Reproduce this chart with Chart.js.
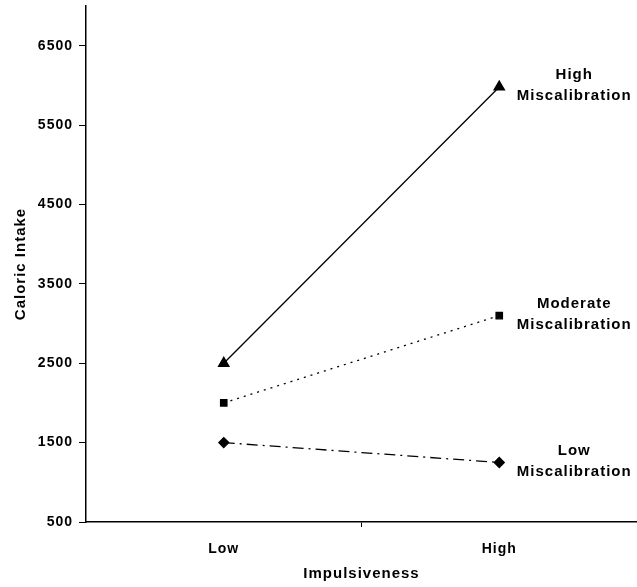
<!DOCTYPE html>
<html>
<head>
<meta charset="utf-8">
<script src="https://cdn.jsdelivr.net/npm/chart.js@4"></script>
<style>
  html, body { margin: 0; padding: 0; background: #fff; }
  #wrap { width: 637px; height: 587px; }
</style>
</head>
<body>
<div id="wrap"><canvas id="grafiek" width="637" height="587"></canvas></div>
<script>
// categorieen en waarden uit de figuur
const impulsiviteit = ["Low", "High"];
const hogeMiscalibratie = [2500, 5980];
const matigeMiscalibratie = [2000, 3100];
const lageMiscalibratie = [1500, 1250];
const yTicks = [500, 1500, 2500, 3500, 4500, 5500, 6500];
const reeksLabels = [
  ["High", "Miscalibration"],
  ["Moderate", "Miscalibration"],
  ["Low", "Miscalibration"]
];

const lettertype = "'Liberation Sans', Arial, sans-serif";

// iets bredere letters zoals in het origineel (canvas reset de state bij resize)
const spatiePlugin = {
  id: 'letterSpatie',
  beforeUpdate(chart) { chart.ctx.letterSpacing = '1px'; },
  beforeDraw(chart) { chart.ctx.letterSpacing = '1px'; }
};

// tekent de labels naast het laatste punt van elke reeks
const labelPlugin = {
  id: 'reeksLabels',
  afterDatasetsDraw(chart) {
    const ctx = chart.ctx;
    ctx.save();
    ctx.font = "bold 15px " + lettertype;
    ctx.fillStyle = '#000';
    ctx.textAlign = 'center';
    ctx.textBaseline = 'middle';
    chart.data.datasets.forEach((ds, i) => {
      const meta = chart.getDatasetMeta(i);
      const p = meta.data[meta.data.length - 1];
      const x = p.x + 75;
      reeksLabels[i].forEach((r, j) => ctx.fillText(r, x, p.y - 12 + j * 21));
    });
    ctx.restore();
  }
};

const tickFont = { family: lettertype, size: 14, weight: 'bold' };
const titelFont = { family: lettertype, size: 15, weight: 'bold' };

new Chart(document.getElementById('grafiek').getContext('2d'), {
  type: 'line',
  data: {
    labels: impulsiviteit,
    datasets: [
      {
        label: 'High Miscalibration',
        data: hogeMiscalibratie,
        borderColor: '#000', backgroundColor: '#000',
        borderWidth: 1.3,
        pointStyle: 'triangle', pointRadius: 6
      },
      {
        label: 'Moderate Miscalibration',
        data: matigeMiscalibratie,
        borderColor: '#000', backgroundColor: '#000',
        borderWidth: 1.3, borderDash: [2, 5],
        pointStyle: 'rect', pointRadius: 4.5
      },
      {
        label: 'Low Miscalibration',
        data: lageMiscalibratie,
        borderColor: '#000', backgroundColor: '#000',
        borderWidth: 1.3, borderDash: [11, 5, 2, 5],
        pointStyle: 'rectRot', pointRadius: 5
      }
    ]
  },
  options: {
    responsive: false,
    animation: false,
    layout: { autoPadding: false, padding: { top: 6, right: 0, left: 0, bottom: 0 } },
    plugins: { legend: { display: false }, tooltip: { enabled: false } },
    scales: {
      x: {
        offset: true,
        grid: {
          offset: true,
          drawOnChartArea: false,
          drawTicks: true,
          tickLength: 5,
          color: c => (c.index === 1 ? '#000' : 'rgba(0,0,0,0)')
        },
        border: { display: true, color: '#000', width: 1.5 },
        ticks: { color: '#000', font: tickFont, padding: 14 },
        title: { display: true, text: 'Impulsiveness', color: '#000', font: titelFont, padding: { top: 19 } },
        afterFit: s => { s.height = 65; s.paddingLeft = 0; s.paddingRight = 0; }
      },
      y: {
        min: 500,
        max: 7000,
        afterBuildTicks: s => { s.ticks = yTicks.map(v => ({ value: v })); },
        grid: { drawOnChartArea: false, drawTicks: true, tickLength: 7, color: '#000' },
        border: { display: true, color: '#000', width: 1.5 },
        ticks: { color: '#000', font: tickFont, padding: 6, callback: v => String(v) },
        title: { display: true, text: 'Caloric Intake', color: '#000', font: titelFont, padding: { top: 12, bottom: 8 } },
        afterFit: s => { s.width = 86; s.paddingTop = 0; s.paddingBottom = 0; }
      }
    }
  },
  plugins: [spatiePlugin, labelPlugin]
});
</script>
</body>
</html>
